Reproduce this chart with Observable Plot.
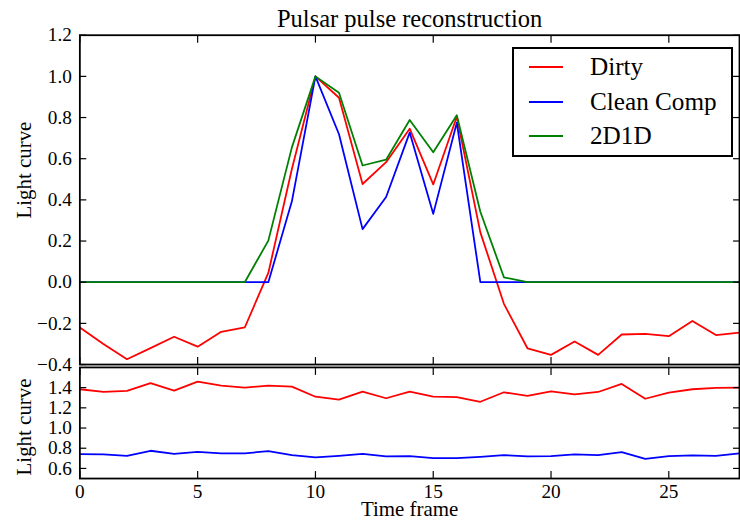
<!DOCTYPE html>
<html><head><meta charset="utf-8">
<script src="https://cdn.jsdelivr.net/npm/d3@7"></script>
<script src="https://cdn.jsdelivr.net/npm/@observablehq/plot@0.6"></script>
<style>
html,body{margin:0;padding:0;background:#fff;overflow:hidden}
#wrap{position:relative;width:740px;height:520px;overflow:hidden;background:#fff;color:#000}
#wrap svg{position:absolute;left:0}
#legend{position:absolute;left:512px;top:47px;width:217px;height:106px;border:2px solid #000;background:#fff}
.row{position:absolute;left:0;height:30px;width:217px}
.swatch{position:absolute;left:15px;top:14px;width:34px;height:2px}
.lbl{position:absolute;left:76px;top:0;line-height:30px;white-space:nowrap}
</style></head><body>
<div id="wrap"></div>
<script>
// ---- data ----
const frames = [0,1,2,3,4,5,6,7,8,9,10,11,12,13,14,15,16,17,18,19,20,21,22,23,24,25,26,27,28];
const seriesNames = ["Dirty", "Clean Comp", "2D1D"];
const seriesColors = ["#ff0000", "#0000ff", "#008000"];
// top panel: reconstructed pulse
const dirty = [-0.22,-0.30,-0.374,-0.32,-0.265,-0.313,-0.241,-0.22,0.045,0.55,1.0,0.896,0.477,0.583,0.746,0.475,0.804,0.242,-0.105,-0.321,-0.353,-0.288,-0.353,-0.254,-0.251,-0.262,-0.188,-0.257,-0.245];
const cleanComp = [0,0,0,0,0,0,0,0,0,0.393,1.0,0.719,0.258,0.414,0.727,0.332,0.775,0,0,0,0,0,0,0,0,0,0,0,0];
const twoD1D = [0,0,0,0,0,0,0,0,0.202,0.655,1.0,0.92,0.567,0.595,0.788,0.631,0.811,0.342,0.024,0,0,0,0,0,0,0,0,0,0];
// bottom panel
const dirtyLow = [1.384,1.357,1.367,1.444,1.37,1.46,1.42,1.40,1.42,1.41,1.31,1.281,1.36,1.295,1.36,1.31,1.305,1.26,1.354,1.318,1.364,1.334,1.357,1.437,1.29,1.35,1.384,1.397,1.40];
const cleanLow = [0.742,0.739,0.725,0.775,0.745,0.765,0.749,0.749,0.772,0.732,0.709,0.725,0.745,0.719,0.722,0.702,0.702,0.715,0.732,0.719,0.722,0.739,0.732,0.762,0.695,0.722,0.729,0.725,0.749];
// ticks
const xTicks = [0,5,10,15,20,25];
const topYTicks = [-0.4,-0.2,0,0.2,0.4,0.6,0.8,1.0,1.2];
const lowYTicks = [0.6,0.8,1.0,1.2,1.4];
const title = "Pulsar pulse reconstruction";
const yLabel = "Light curve";
const xLabel = "Time frame";

// ---- fonts: size chosen from the reference's text widths and heights ----
const FONT = "'Liberation Serif', 'DejaVu Serif', serif";
const ctx = document.createElement("canvas").getContext("2d");
function fitSize(text, targetWidth, heightSize) {
  ctx.font = `100px ${FONT}`;
  const w = ctx.measureText(text).width;
  const ws = 100 * targetWidth / w;
  return Math.round(Math.sqrt(ws * heightSize) * 10) / 10;
}
const titleSize = fitSize(title, 301, 22);
const labelSize = fitSize(yLabel, 103, 20);
const tickSize = fitSize("\u22120.2", 38, 18);
const legendSize = fitSize("Clean Comp", 133, 24);

// ---- build ----
const W = 746;
const fmt = d3.format(".1f");
const topData = [];
[dirty, cleanComp, twoD1D].forEach((arr, s) => arr.forEach((v, i) => topData.push({frame: frames[i], value: v, series: seriesNames[s]})));
const lowData = [];
[dirtyLow, cleanLow].forEach((arr, s) => arr.forEach((v, i) => lowData.push({frame: frames[i], value: v, series: seriesNames[s]})));

function innerTicks(yT) {
  const o = {tickFormat: () => "", label: null, strokeWidth: 1.2};
  return [
    Plot.axisX(xTicks, {...o, anchor: "top", tickSize: 7, dy: 7}),
    Plot.axisX(xTicks, {...o, anchor: "bottom", tickSize: 7, dy: -7}),
    Plot.axisY(yT, {...o, anchor: "left", tickSize: 7, dx: 7}),
    Plot.axisY(yT, {...o, anchor: "right", tickSize: 7, dx: -7})
  ];
}

const topPlot = Plot.plot({
  width: W, height: 380,
  marginLeft: 80, marginRight: 1, marginTop: 35, marginBottom: 13,
  style: {background: "transparent", fontFamily: FONT, overflow: "visible", color: "#000"},
  x: {domain: [0, 28]},
  y: {domain: [-0.4, 1.2]},
  color: {domain: seriesNames, range: seriesColors},
  marks: [
    Plot.line(topData, {x: "frame", y: "value", stroke: "series", z: "series", strokeWidth: 1.8}),
    Plot.frame({stroke: "#000", strokeWidth: 1.8}),
    ...innerTicks(topYTicks),
    Plot.axisY(topYTicks, {anchor: "left", tickSize: 0, tickPadding: 8, tickFormat: fmt, label: null, fontSize: tickSize}),
    Plot.text([yLabel], {text: d => d, frameAnchor: "left", textAnchor: "middle", lineAnchor: "middle", dx: -56, dy: -30, rotate: -90, fontSize: labelSize}),
    Plot.text([title], {text: d => d, frameAnchor: "top", textAnchor: "middle", lineAnchor: "middle", dy: -16, fontSize: titleSize})
  ]
});
topPlot.style.top = "0px";

const lowPlot = Plot.plot({
  width: W, height: 160,
  marginLeft: 80, marginRight: 1, marginTop: 7, marginBottom: 41,
  style: {background: "transparent", fontFamily: FONT, overflow: "visible", color: "#000"},
  x: {domain: [0, 28]},
  y: {domain: [0.5, 1.6]},
  color: {domain: seriesNames, range: seriesColors},
  marks: [
    Plot.line(lowData, {x: "frame", y: "value", stroke: "series", z: "series", strokeWidth: 1.8}),
    Plot.frame({stroke: "#000", strokeWidth: 1.8}),
    ...innerTicks(lowYTicks),
    Plot.axisY(lowYTicks, {anchor: "left", tickSize: 0, tickPadding: 8, tickFormat: fmt, label: null, fontSize: tickSize}),
    Plot.axisX(xTicks, {anchor: "bottom", tickSize: 0, tickPadding: 6, tickFormat: d3.format("d"), label: null, fontSize: tickSize}),
    Plot.text([yLabel], {text: d => d, frameAnchor: "left", textAnchor: "middle", lineAnchor: "middle", dx: -56, dy: 4, rotate: -90, fontSize: labelSize}),
    Plot.text([xLabel], {text: d => d, frameAnchor: "bottom", textAnchor: "middle", lineAnchor: "middle", dy: 31, fontSize: labelSize})
  ]
});
lowPlot.style.top = "360px";

const wrap = document.getElementById("wrap");
wrap.appendChild(topPlot);
wrap.appendChild(lowPlot);

// legend
const legend = document.createElement("div");
legend.id = "legend";
legend.style.fontFamily = FONT;
seriesNames.forEach((name, i) => {
  const row = document.createElement("div");
  row.className = "row";
  row.style.top = (3 + i * 34.5) + "px";
  const sw = document.createElement("div");
  sw.className = "swatch";
  sw.style.background = seriesColors[i];
  const lb = document.createElement("div");
  lb.className = "lbl";
  lb.style.fontSize = legendSize + "px";
  lb.textContent = name;
  row.appendChild(sw); row.appendChild(lb);
  legend.appendChild(row);
});
wrap.appendChild(legend);
</script>
</body></html>
